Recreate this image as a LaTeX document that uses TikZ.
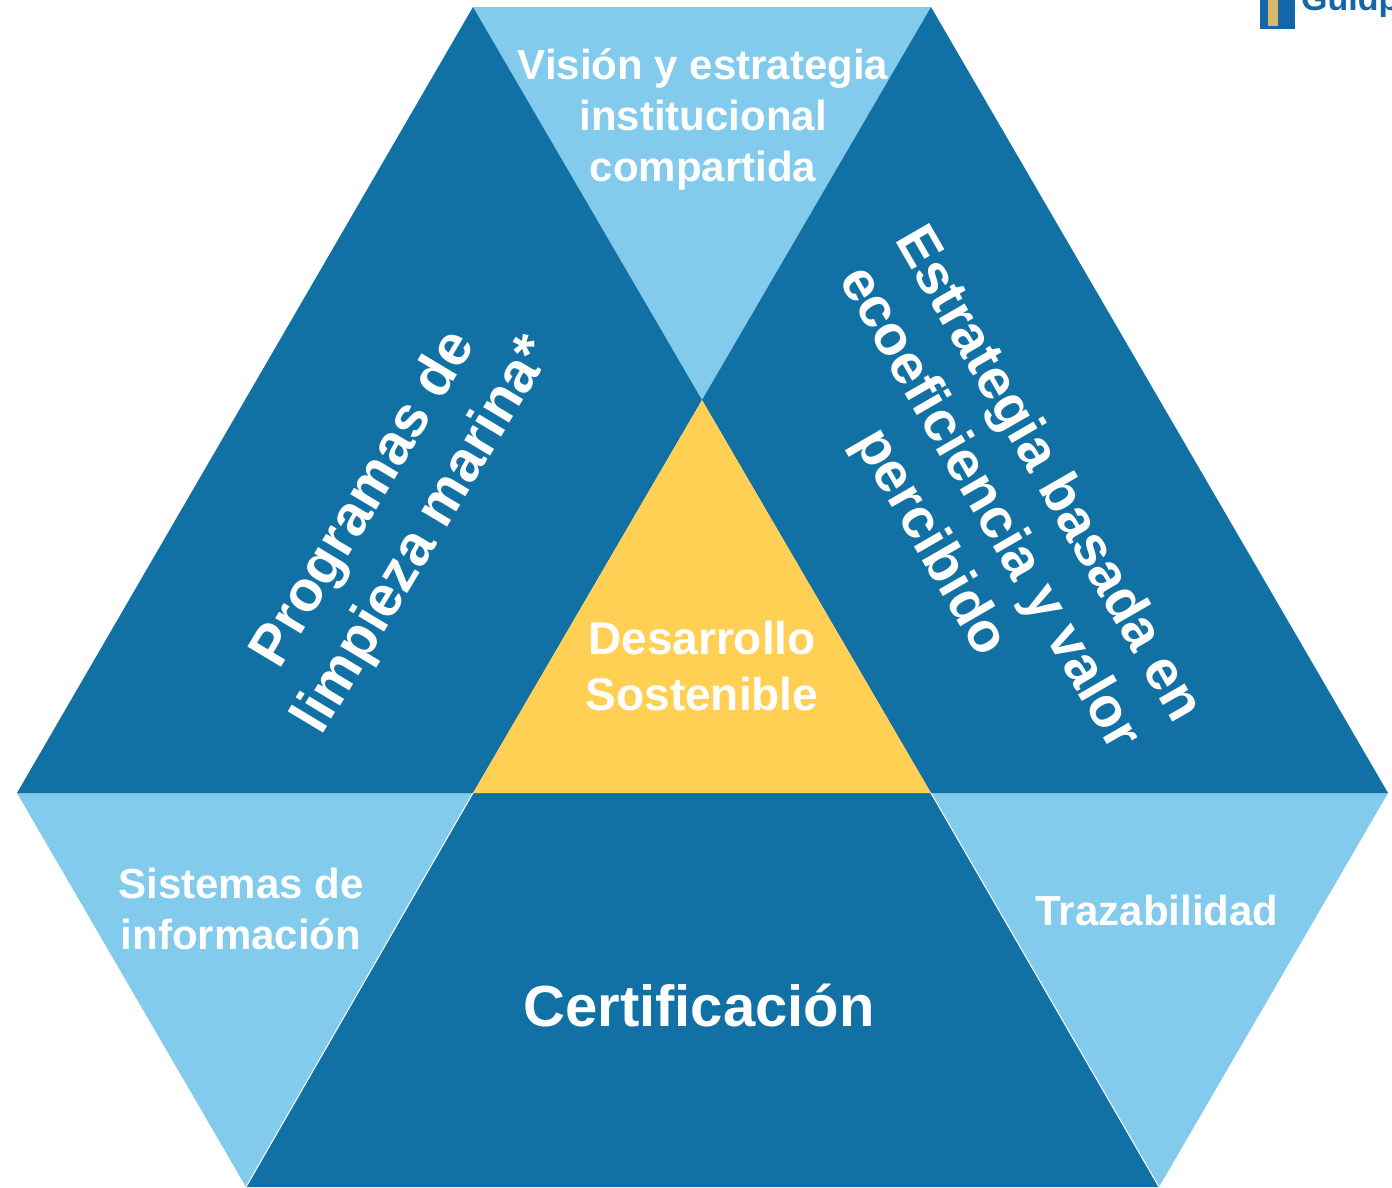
\documentclass[tikz,border=0pt]{standalone}
\usepackage{fontspec}
\setmainfont{Liberation Sans}
\definecolor{darkb}{HTML}{1271A4}
\definecolor{lightb}{HTML}{82CBEC}
\definecolor{gold}{HTML}{FFD054}
\definecolor{logob}{HTML}{1466A6}
\definecolor{logog}{HTML}{D8B866}
\tikzset{
  x=1pt,y=-1pt,
  lab/.style={text=white,align=center,inner sep=0pt},
  labsmall/.style={lab,font=\bfseries\fontsize{42}{51}\selectfont},
  labcentre/.style={lab,font=\bfseries\fontsize{46}{56}\selectfont},
  labbig/.style={lab,font=\bfseries\fontsize{58}{66}\selectfont},
  labside/.style={lab,font=\bfseries\fontsize{56}{68}\selectfont},
  labprog/.style={lab,font=\bfseries\fontsize{57}{70}\selectfont},
}
\begin{document}
\begin{tikzpicture}
\useasboundingbox (0,0) rectangle (1392,1187);
\fill[white] (0,0) rectangle (1392,1187);
% light triangles
\fill[lightb] (473,7) -- (931,7) -- (702,400) -- cycle;
\fill[lightb] (17,793) -- (473,793) -- (246,1187) -- cycle;
\fill[lightb] (931,793) -- (1388,793) -- (1159,1187) -- cycle;
% dark
\fill[darkb] (473,7) -- (702,400) -- (473,793) -- (17,793) -- cycle;
\fill[darkb] (931,7) -- (1388,793) -- (931,793) -- (702,400) -- cycle;
\fill[darkb] (473,793) -- (931,793) -- (1159,1187) -- (246,1187) -- cycle;
% hairlines between the lower triangles
\draw[white,line width=1pt] (473,793) -- (246,1187);
\draw[white,line width=1pt] (931,793) -- (1159,1187);
% centre
\fill[gold] (702,400) -- (931,793) -- (473,793) -- cycle;
% logo fragment
\fill[logob] (1260,0) rectangle (1295,29);
\fill[logog] (1268,0) rectangle (1278,26);
\node[anchor=base west,inner sep=0pt,text=logob,font=\bfseries\fontsize{34}{34}\selectfont] (logo) at (1301,10) {Guidp};
% text
\node[labsmall] (vision) at (703,119) {Visión y estrategia\\institucional\\compartida};
\node[labcentre] (desa) at (702,666) {Desarrollo\\Sostenible};
\node[labsmall] (sis) at (241,909) {Sistemas de\\información};
\node[labsmall] (traz) at (1157,910) {Trazabilidad};
\node[labbig] (cert) at (699,1005) {Certificación};
\node[labprog,rotate=59] (prog) at (395,518) {Programas de\\limpieza marina*};
\node[labside,rotate=-60] (estr) at (988,509) {Estrategia basada en\\ecoeficiencia y valor\\percibido};
\end{tikzpicture}
\end{document}
